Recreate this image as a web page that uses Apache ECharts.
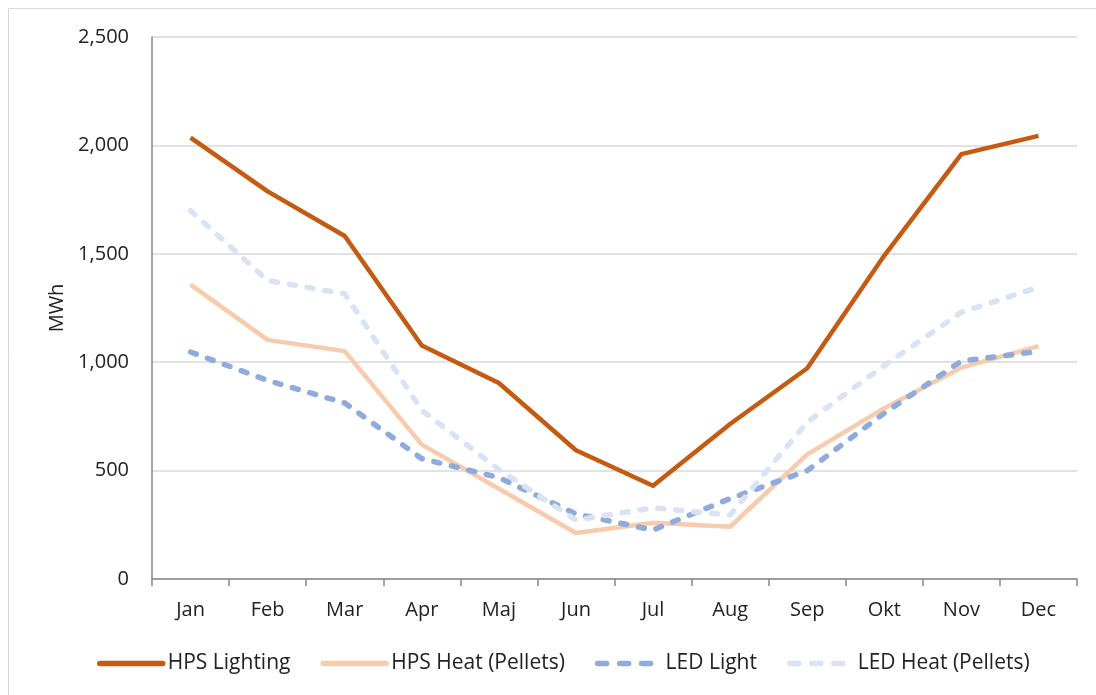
<!DOCTYPE html>
<html>
<head>
<meta charset="utf-8">
<script src="https://cdn.jsdelivr.net/npm/echarts@6/dist/echarts.min.js"></script>
<style>
  html, body { margin: 0; padding: 0; background: #ffffff; }
  #chart { width: 1096px; height: 695px; }
</style>
</head>
<body>
<div id="chart"></div>
<script>
// Monthly energy use (MWh) for HPS and LED greenhouse setups
const months = ['Jan', 'Feb', 'Mar', 'Apr', 'Maj', 'Jun', 'Jul', 'Aug', 'Sep', 'Okt', 'Nov', 'Dec'];
const hpsLighting = [2036, 1788, 1582, 1077, 904, 594, 430, 715, 972, 1492, 1960, 2044];
const hpsHeat     = [1358, 1103, 1051, 620, 416, 212, 259, 241, 575, 788, 975, 1074];
const ledLight    = [1047, 916, 812, 555, 468, 300, 226, 371, 500, 765, 1005, 1050];
const ledHeat     = [1699, 1377, 1315, 778, 505, 272, 328, 295, 724, 985, 1230, 1346];
const yTicks = [0, 500, 1000, 1500, 2000, 2500];

const FONT = '"Open Sans", "Noto Sans", sans-serif';
const TEXT = '#222222';

function lineSeries(name, data, color, dashed) {
  return {
    name: name,
    type: 'line',
    data: data,
    symbol: 'none',
    smooth: false,
    lineStyle: {
      color: color,
      width: dashed ? 5.5 : 4.5,
      type: dashed ? [6, 12] : 'solid',
      cap: dashed ? 'round' : 'butt',
      join: 'round'
    },
    itemStyle: { color: color },
    emphasis: { disabled: true }
  };
}

const chart = echarts.init(document.getElementById('chart'), null, { renderer: 'canvas' });

const legendDashed = { type: [9, 13], width: 5.5, cap: 'round' };
const legendItems = [
  { name: 'HPS Lighting' },
  { name: 'HPS Heat (Pellets)' },
  { name: 'LED Light', lineStyle: legendDashed },
  { name: 'LED Heat (Pellets)', lineStyle: legendDashed }
];

chart.setOption({
  animation: false,
  backgroundColor: '#ffffff',
  textStyle: { fontFamily: FONT },
  graphic: [{
    type: 'rect',
    shape: { x: 8.5, y: 8.5, width: 1100, height: 700 },
    style: { fill: 'none', stroke: '#d9d9d9', lineWidth: 1 },
    silent: true
  }],
  grid: { left: 152, right: 19, top: 37, bottom: 116, containLabel: false },
  legend: {
    left: 97,
    top: 653,
    padding: 0,
    itemWidth: 63,
    itemHeight: 14,
    itemGap: 30,
    itemStyle: { opacity: 0 },
    lineStyle: { width: 5.5, cap: 'round' },
    textStyle: { fontFamily: FONT, fontSize: 21, color: TEXT },
    data: legendItems
  },
  xAxis: {
    type: 'category',
    data: months,
    boundaryGap: true,
    axisLine: { show: true, lineStyle: { color: '#868686', width: 1.5 } },
    axisTick: { show: true, length: 7, alignWithLabel: false, lineStyle: { color: '#868686', width: 1.5 } },
    axisLabel: { color: TEXT, fontSize: 20, fontFamily: FONT, margin: 21 },
    splitLine: { show: false }
  },
  yAxis: {
    type: 'value',
    min: yTicks[0],
    max: yTicks[yTicks.length - 1],
    interval: 500,
    name: 'MWh',
    nameLocation: 'middle',
    nameGap: 84,
    nameRotate: 90,
    nameTextStyle: { color: TEXT, fontSize: 20, fontFamily: FONT },
    axisLine: { show: true, lineStyle: { color: '#868686', width: 1.5 } },
    axisTick: { show: false },
    axisLabel: {
      color: TEXT, fontSize: 20, fontFamily: FONT, margin: 23,
      formatter: v => v.toLocaleString('en-US')
    },
    splitLine: { show: true, lineStyle: { color: '#d9d9d9', width: 1.5 } }
  },
  series: [
    lineSeries('HPS Lighting', hpsLighting, '#C55A11', false),
    lineSeries('HPS Heat (Pellets)', hpsHeat, '#F8CBAD', false),
    lineSeries('LED Light', ledLight, '#8FAADC', true),
    lineSeries('LED Heat (Pellets)', ledHeat, '#DAE3F3', true)
  ]
});
</script>
</body>
</html>
